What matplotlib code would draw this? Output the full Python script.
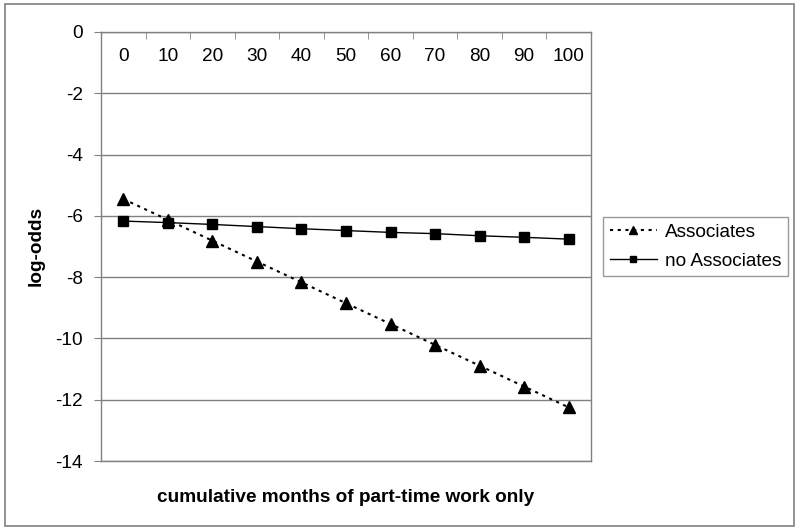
import numpy as np
import matplotlib
matplotlib.use("Agg")
import matplotlib.pyplot as plt
from matplotlib.patches import Rectangle

# data
months = [0, 10, 20, 30, 40, 50, 60, 70, 80, 90, 100]
associates = [-5.45, -6.13, -6.81, -7.49, -8.17, -8.85, -9.53, -10.21,
              -10.89, -11.57, -12.25]
no_associates = [-6.17, -6.22, -6.28, -6.35, -6.42, -6.48, -6.54, -6.58,
                 -6.65, -6.70, -6.76]
yticks = [0, -2, -4, -6, -8, -10, -12, -14]

plt.rcParams['font.family'] = ['Liberation Sans', 'DejaVu Sans']
grey = '#808080'
fs = 13.7

W, H = 800, 530
fig = plt.figure(figsize=(W / 100, H / 100), dpi=100)

# outer chart border
fig.patches.append(Rectangle((5 / W, 4 / H), 789 / W, 522 / H,
                             transform=fig.transFigure, fill=False,
                             edgecolor=grey, lw=1.2))

ax = fig.add_axes([101 / W, (H - 461) / H, 490 / W, 429 / H])
x = np.arange(len(months))

ax.plot(x, associates, color='k', ls=(0, (1.5, 2.2)), lw=1.5,
        marker='^', ms=8, label='Associates')
ax.plot(x, no_associates, color='k', ls='-', lw=1.0,
        marker='s', ms=7, label='no Associates')

# y axis
ax.set_ylim(-14, 0)
ax.set_yticks(yticks)
ax.set_yticklabels([str(v) for v in yticks])
ax.yaxis.grid(True, color=grey, lw=1)
ax.set_axisbelow(True)
ax.tick_params(axis='y', direction='out', length=5, color=grey,
               labelsize=fs, pad=8)

# category axis sits at the top (y=0), labels below it
ax.set_xlim(-0.5, len(months) - 0.5)
ax.set_xticks(x)
ax.set_xticklabels([str(m) for m in months])
ax.set_xticks(x[:-1] + 0.5, minor=True)
ax.tick_params(axis='x', which='major', bottom=False, labelbottom=False,
               top=False, labeltop=True, labelsize=fs, pad=-27)
ax.tick_params(axis='x', which='minor', bottom=False, top=True,
               direction='in', length=5, color=grey)

for sp in ax.spines.values():
    sp.set_color(grey)
    sp.set_linewidth(1)

fig.text(346 / W, 1 - 497 / H, 'cumulative months of part-time work only',
         ha='center', va='center', fontsize=fs, fontweight='bold')
fig.text(36 / W, 1 - 246 / H, 'log-odds', ha='center', va='center',
         rotation=90, fontsize=fs, fontweight='bold')

leg = fig.legend(loc='center left', bbox_to_anchor=(603 / W, 1 - 246.5 / H),
                 fontsize=fs, frameon=True, fancybox=False, edgecolor=grey,
                 handlelength=2.5, handletextpad=0.42, borderpad=0.35,
                 labelspacing=0.6, borderaxespad=0, markerscale=0.7)
leg.get_frame().set_linewidth(1)

fig.savefig('out.png', dpi=100)
